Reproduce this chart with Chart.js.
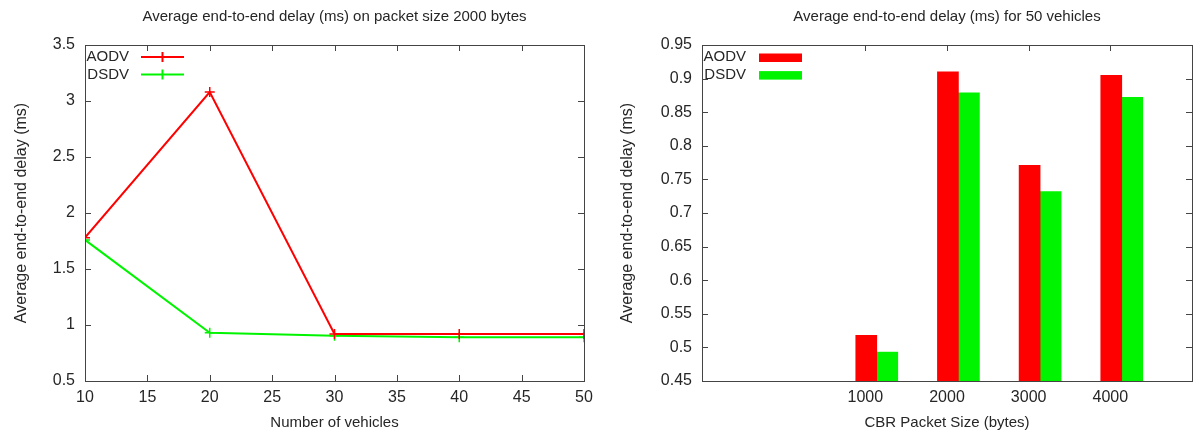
<!DOCTYPE html>
<html>
<head>
<meta charset="utf-8">
<script src="https://cdn.jsdelivr.net/npm/chart.js@4.4.1/dist/chart.umd.min.js"></script>
<style>
  body { margin: 0; background: #fff; }
  #wrap { position: relative; width: 1193px; height: 434px; }
  #left { position: absolute; left: 0; top: 0; }
  #right { position: absolute; left: 600px; top: 0; }
</style>
</head>
<body>
<div id="wrap">
  <canvas id="left" width="600" height="434"></canvas>
  <canvas id="right" width="593" height="434"></canvas>
</div>
<script>
// left chart: delay vs number of vehicles (packet size 2000 bytes)
const vehicles = [10, 20, 30, 40, 50];
const aodvByVehicles = [1.78, 3.08, 0.92, 0.92, 0.92];
const dsdvByVehicles = [1.76, 0.93, 0.905, 0.89, 0.89];

// right chart: delay vs CBR packet size (50 vehicles)
const packetSizes = ["1000", "2000", "3000", "4000"];
const aodvByPacket = [0.518, 0.91, 0.771, 0.905];
const dsdvByPacket = [0.493, 0.879, 0.732, 0.872];

const RED = "#ff0000";
const GREEN = "#00f400";
const TEXT = "#262626";
const FONT = "'Liberation Sans', Arial, sans-serif";

Chart.defaults.font.family = FONT;
Chart.defaults.color = TEXT;
Chart.defaults.animation = false;

// gnuplot prints 3 and 0.9, not 3.0 and 0.90
const plainNumber = (v) => String(Number(v.toFixed(3)));

// gnuplot style frame with inward tick marks on all four sides
const framePlugin = {
  id: "frame",
  beforeDatasetsDraw(chart) {
    const { ctx, chartArea: a, scales: { x, y } } = chart;
    const len = 6;
    ctx.save();
    ctx.strokeStyle = "#444";
    ctx.lineWidth = 1;
    ctx.beginPath();
    x.ticks.forEach((t) => {
      const px = Math.round(x.getPixelForValue(t.value)) + 0.5;
      ctx.moveTo(px, a.bottom);
      ctx.lineTo(px, a.bottom - len);
      ctx.moveTo(px, a.top);
      ctx.lineTo(px, a.top + len);
    });
    y.ticks.forEach((t) => {
      const py = Math.round(y.getPixelForValue(t.value)) + 0.5;
      ctx.moveTo(a.left, py);
      ctx.lineTo(a.left + len, py);
      ctx.moveTo(a.right, py);
      ctx.lineTo(a.right - len, py);
    });
    ctx.stroke();
    ctx.restore();
  },
  afterDatasetsDraw(chart) {
    const { ctx, chartArea: a } = chart;
    ctx.save();
    ctx.strokeStyle = "#444";
    ctx.lineWidth = 1;
    ctx.strokeRect(Math.round(a.left) + 0.5, Math.round(a.top) + 0.5,
      Math.round(a.right - a.left), Math.round(a.bottom - a.top));
    ctx.restore();
  },
};

// key drawn inside the plot, top left, like gnuplot
const keyPlugin = {
  id: "key",
  afterDraw(chart, args, opts) {
    const { ctx, chartArea: a } = chart;
    ctx.save();
    ctx.font = "15px " + FONT;
    ctx.textAlign = "right";
    ctx.textBaseline = "middle";
    chart.data.datasets.forEach((ds, i) => {
      const yy = a.top + 12 + i * 17.6;
      ctx.fillStyle = TEXT;
      ctx.fillText(ds.label, a.left + 44, yy);
      if (opts.box) {
        ctx.fillStyle = ds.backgroundColor;
        ctx.fillRect(a.left + 57, yy - 3.5, 43, 8.5);
      } else {
        ctx.strokeStyle = ds.borderColor;
        ctx.lineWidth = 2;
        ctx.beginPath();
        ctx.moveTo(a.left + 56, yy);
        ctx.lineTo(a.left + 99, yy);
        ctx.moveTo(a.left + 77.5, yy - 5);
        ctx.lineTo(a.left + 77.5, yy + 5);
        ctx.stroke();
      }
    });
    ctx.restore();
  },
};

const titleFont = { size: 15, weight: "normal" };
const axisTitleFont = { size: 15 };
const tickFont = { size: 16 };

new Chart(document.getElementById("left"), {
  type: "line",
  data: {
    datasets: [
      {
        label: "AODV",
        data: vehicles.map((v, i) => ({ x: v, y: aodvByVehicles[i] })),
        borderColor: RED,
        backgroundColor: RED,
      },
      {
        label: "DSDV",
        data: vehicles.map((v, i) => ({ x: v, y: dsdvByVehicles[i] })),
        borderColor: GREEN,
        backgroundColor: GREEN,
      },
    ],
  },
  options: {
    responsive: false,
    layout: { padding: { right: 16 } },
    elements: {
      line: { borderWidth: 2, tension: 0 },
      point: { pointStyle: "cross", radius: 5, borderWidth: 1.5 },
    },
    scales: {
      x: {
        type: "linear",
        min: 10,
        max: 50,
        grid: { display: false, drawTicks: false },
        border: { display: false },
        ticks: { stepSize: 5, padding: 7, font: tickFont },
        title: { display: true, text: "Number of vehicles", font: axisTitleFont, padding: { bottom: 2 } },
        afterFit: (s) => { s.height = 53; },
      },
      y: {
        min: 0.5,
        max: 3.5,
        grid: { display: false, drawTicks: false },
        border: { display: false },
        ticks: { stepSize: 0.5, padding: 10, font: tickFont, callback: plainNumber },
        title: { display: true, text: "Average end-to-end delay (ms)", font: { size: 16 }, padding: { top: 12 } },
        afterFit: (s) => { s.width = 85; },
      },
    },
    plugins: {
      legend: { display: false },
      tooltip: { enabled: false },
      title: {
        display: true,
        text: "Average end-to-end delay (ms) on packet size 2000 bytes",
        fullSize: false,
        font: titleFont,
        color: TEXT,
        padding: { top: 8, bottom: 19 },
      },
      key: { box: false },
    },
  },
  plugins: [framePlugin, keyPlugin],
});

const yMinRight = 0.45;

new Chart(document.getElementById("right"), {
  type: "bar",
  data: {
    datasets: [
      {
        label: "AODV",
        data: packetSizes.map((s, i) => ({ x: i + 2.14, y: aodvByPacket[i] })),
        backgroundColor: RED,
        base: yMinRight,
      },
      {
        label: "DSDV",
        data: packetSizes.map((s, i) => ({ x: i + 2.14, y: dsdvByPacket[i] })),
        backgroundColor: GREEN,
        base: yMinRight,
      },
    ],
  },
  options: {
    responsive: false,
    layout: { padding: { right: 1 } },
    datasets: { bar: { barThickness: 21, borderWidth: 0 } },
    scales: {
      x: {
        type: "linear",
        offset: false,
        min: 0,
        max: 6,
        grid: { display: false, drawTicks: false },
        border: { display: false },
        afterBuildTicks: (s) => { s.ticks = packetSizes.map((_, i) => ({ value: i + 2 })); },
        ticks: { padding: 7, font: tickFont, callback: (v, i) => packetSizes[i] },
        title: { display: true, text: "CBR Packet Size (bytes)", font: axisTitleFont, padding: { bottom: 2 } },
        afterFit: (s) => { s.height = 53; },
      },
      y: {
        min: yMinRight,
        max: 0.95,
        grid: { display: false, drawTicks: false },
        border: { display: false },
        ticks: { stepSize: 0.05, padding: 10, font: tickFont, callback: plainNumber },
        title: { display: true, text: "Average end-to-end delay (ms)", font: { size: 16 }, padding: { top: 18 } },
        afterFit: (s) => { s.width = 102; },
      },
    },
    plugins: {
      legend: { display: false },
      tooltip: { enabled: false },
      title: {
        display: true,
        text: "Average end-to-end delay (ms) for 50 vehicles",
        fullSize: false,
        font: titleFont,
        color: TEXT,
        padding: { top: 8, bottom: 19 },
      },
      key: { box: true },
    },
  },
  plugins: [framePlugin, keyPlugin],
});
</script>
</body>
</html>
